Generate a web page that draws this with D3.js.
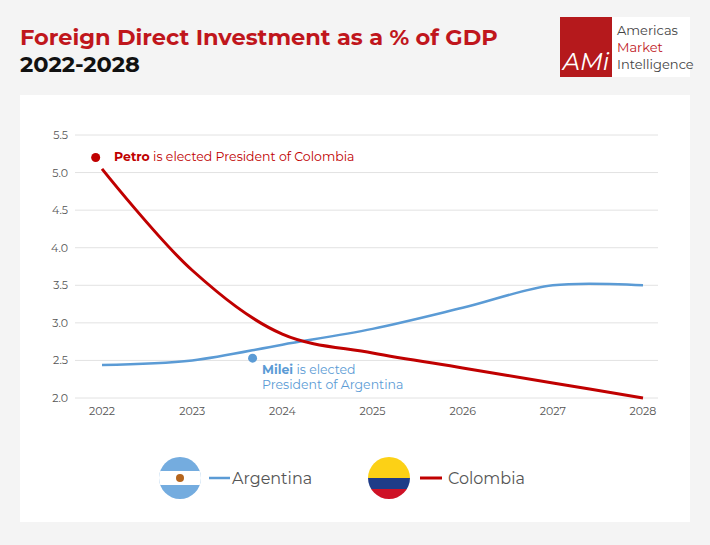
<!DOCTYPE html>
<html><head><meta charset="utf-8">
<script src="https://cdn.jsdelivr.net/npm/d3@7"></script>
<style>body{margin:0;background:#f4f4f4;font-family:Montserrat,"Open Sans",sans-serif}</style>
</head><body>
<svg id="c" width="710" height="545"></svg>
<script>
const years=[2022,2023,2024,2025,2026,2027,2028];
const argentina=[2.44,2.5,2.71,2.92,3.2,3.5,3.5];
const colombia=[5.05,3.7,2.85,2.6,2.4,2.2,2.0];
const yTicks=[2.0,2.5,3.0,3.5,4.0,4.5,5.0,5.5];
const svg=d3.select("#c");
svg.append("rect").attr("width",710).attr("height",545).attr("fill","#f4f4f4");
svg.append("text").attr("x",20).attr("y",45).attr("font-size",22.5).attr("font-weight",700).attr("fill","#c0161c").text("Foreign Direct Investment as a % of GDP");
svg.append("text").attr("x",20).attr("y",72).attr("font-size",22.5).attr("font-weight",700).attr("fill","#111").text("2022-2028");
// logo
svg.append("rect").attr("x",560).attr("y",17).attr("width",130).attr("height",60).attr("fill","#fff");
svg.append("rect").attr("x",560).attr("y",17).attr("width",52).attr("height",60).attr("fill","#b5191c");
svg.append("text").attr("x",586).attr("y",70).attr("text-anchor","middle").attr("font-size",24).attr("font-style","italic").attr("fill","#fff").text("AMi");
[["Americas","#444",35],["Market","#c0161c",52],["Intelligence","#444",69]].forEach(d=>svg.append("text").attr("x",617).attr("y",d[2]).attr("font-size",13).attr("fill",d[1]).text(d[0]));
svg.append("rect").attr("x",20).attr("y",95).attr("width",670).attr("height",427).attr("fill","#fff");
const x=d3.scaleLinear().domain([2022,2028]).range([102,643]);
const y=d3.scaleLinear().domain([2,5.5]).range([398,135]);
const g=svg.append("g");
yTicks.forEach(t=>{
 g.append("line").attr("x1",75).attr("x2",658).attr("y1",y(t)).attr("y2",y(t)).attr("stroke","#e2e2e2");
 g.append("text").attr("x",68).attr("y",y(t)+4).attr("text-anchor","end").attr("font-size",11).attr("fill","#555").text(t.toFixed(1));
});
years.forEach(t=>g.append("text").attr("x",x(t)).attr("y",415).attr("text-anchor","middle").attr("font-size",11).attr("fill","#555").text(t));
const line=d3.line().x((d,i)=>x(years[i])).y(d=>y(d)).curve(d3.curveCatmullRom.alpha(0.5));
g.append("path").attr("d",line(argentina)).attr("fill","none").attr("stroke","#5b9bd5").attr("stroke-width",2.5);
g.append("path").attr("d",line(colombia)).attr("fill","none").attr("stroke","#c00000").attr("stroke-width",3);
g.append("circle").attr("cx",x(2021.93)).attr("cy",y(5.2)).attr("r",4.5).attr("fill","#c00000");
const t1=g.append("text").attr("x",114).attr("y",161).attr("font-size",12.5).attr("fill","#c00000");
t1.append("tspan").attr("font-weight",700).text("Petro");t1.append("tspan").text(" is elected President of Colombia");
g.append("circle").attr("cx",x(2023.67)).attr("cy",y(2.53)).attr("r",4.5).attr("fill","#5b9bd5");
const t2=g.append("text").attr("x",262).attr("y",374).attr("font-size",12.5).attr("fill","#5b9bd5");
t2.append("tspan").attr("font-weight",700).text("Milei");t2.append("tspan").text(" is elected");
g.append("text").attr("x",262).attr("y",389).attr("font-size",12.5).attr("fill","#5b9bd5").text("President of Argentina");
// legend flags
const defs=svg.append("defs");
defs.append("clipPath").attr("id","ca").append("circle").attr("cx",180).attr("cy",478).attr("r",21);
defs.append("clipPath").attr("id","cc").append("circle").attr("cx",389).attr("cy",478).attr("r",21);
const a=svg.append("g").attr("clip-path","url(#ca)");
a.append("rect").attr("x",159).attr("y",457).attr("width",42).attr("height",42).attr("fill","#74acdf");
a.append("rect").attr("x",159).attr("y",471).attr("width",42).attr("height",14).attr("fill","#fff");
svg.append("circle").attr("cx",180).attr("cy",478).attr("r",4).attr("fill","#b5651d");
const c=svg.append("g").attr("clip-path","url(#cc)");
c.append("rect").attr("x",368).attr("y",457).attr("width",42).attr("height",21).attr("fill","#fcd116");
c.append("rect").attr("x",368).attr("y",478).attr("width",42).attr("height",11).attr("fill","#1f3c88");
c.append("rect").attr("x",368).attr("y",489).attr("width",42).attr("height",11).attr("fill","#ce1126");
svg.append("line").attr("x1",209).attr("x2",230).attr("y1",478).attr("y2",478).attr("stroke","#5b9bd5").attr("stroke-width",2.5);
svg.append("text").attr("x",232).attr("y",484).attr("font-size",16).attr("fill","#555").text("Argentina");
svg.append("line").attr("x1",420).attr("x2",442).attr("y1",478).attr("y2",478).attr("stroke","#c00000").attr("stroke-width",3);
svg.append("text").attr("x",448).attr("y",484).attr("font-size",16).attr("fill","#555").text("Colombia");
</script></body></html>
